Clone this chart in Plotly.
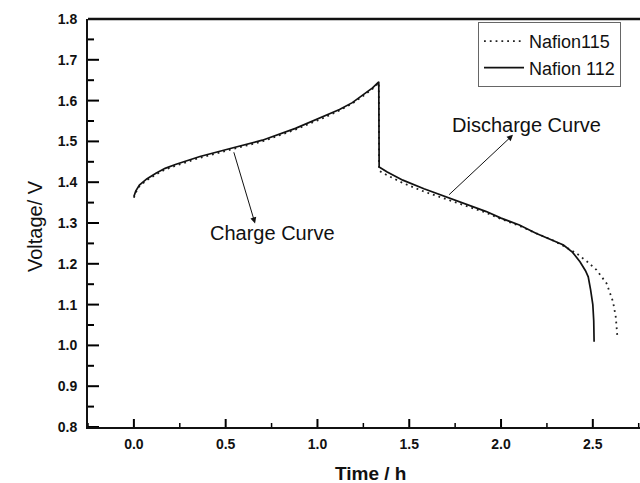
import plotly.graph_objects as go

# Nafion 112 (solid)
t112 = [0.0, 0.01, 0.03, 0.07, 0.12, 0.17, 0.23, 0.30, 0.36, 0.52, 0.70, 0.88, 1.03, 1.12, 1.19, 1.25, 1.30, 1.334,
        1.336, 1.38, 1.465, 1.58, 1.70, 1.80, 1.92, 2.00, 2.10, 2.19, 2.28, 2.34, 2.39, 2.43,
        2.46, 2.475, 2.488, 2.50, 2.505, 2.507]
v112 = [1.365, 1.378, 1.393, 1.408, 1.422, 1.434, 1.444, 1.455, 1.463, 1.482, 1.503, 1.532, 1.560, 1.578, 1.595, 1.614, 1.631, 1.646,
        1.437, 1.425, 1.405, 1.384, 1.364, 1.347, 1.328, 1.312, 1.295, 1.275, 1.258, 1.246, 1.228, 1.205,
        1.183, 1.168, 1.136, 1.100, 1.060, 1.009]

# Nafion115 (dotted)
t115 = [0.0, 0.01, 0.03, 0.07, 0.12, 0.17, 0.23, 0.30, 0.36, 0.52, 0.70, 0.88, 1.03, 1.12, 1.19, 1.25, 1.30, 1.334,
        1.336, 1.38, 1.465, 1.58, 1.70, 1.80, 1.92, 2.00, 2.10, 2.19, 2.28, 2.34, 2.41, 2.47,
        2.52, 2.575, 2.61, 2.625, 2.633]
v115 = [1.362, 1.375, 1.390, 1.405, 1.419, 1.431, 1.441, 1.452, 1.460, 1.479, 1.500, 1.529, 1.557, 1.576, 1.593, 1.612, 1.629, 1.644,
        1.428, 1.417, 1.398, 1.377, 1.359, 1.344, 1.325, 1.310, 1.293, 1.275, 1.258, 1.244, 1.226, 1.205,
        1.185, 1.152, 1.107, 1.070, 1.025]

xtickvals = [0.0, 0.5, 1.0, 1.5, 2.0, 2.5]
xticklabels = ["0.0", "0.5", "1.0", "1.5", "2.0", "2.5"]
xminorvals = [-0.25, 0.25, 0.75, 1.25, 1.75, 2.25, 2.75]
ytickvals = [0.8, 0.9, 1.0, 1.1, 1.2, 1.3, 1.4, 1.5, 1.6, 1.7, 1.8]
yticklabels = ["0.8", "0.9", "1.0", "1.1", "1.2", "1.3", "1.4", "1.5", "1.6", "1.7", "1.8"]
yminorvals = [0.85, 0.95, 1.05, 1.15, 1.25, 1.35, 1.45, 1.55, 1.65, 1.75]

fig = go.Figure()
fig.add_trace(go.Scatter(x=t115, y=v115, mode="lines", name="Nafion115",
                         line=dict(color="#222222", width=1.8, dash="1.8px,4px")))
fig.add_trace(go.Scatter(x=t112, y=v112, mode="lines", name="Nafion 112",
                         line=dict(color="#111111", width=1.7)))

axis_font = dict(family="Liberation Sans, Arial", size=14, color="#111111")

fig.update_xaxes(range=[-0.25, 2.757], tickmode="array", tickvals=xtickvals,
                 ticktext=["<b>%s</b>" % s for s in xticklabels],
                 ticks="", showline=True, linewidth=2, linecolor="#111111", mirror=False,
                 showgrid=False, zeroline=False, tickfont=axis_font, ticklabelstandoff=3)
fig.update_yaxes(range=[0.8, 1.8], tickmode="array", tickvals=ytickvals,
                 ticktext=["<b>%s</b>" % s for s in yticklabels],
                 ticks="", showline=True, linewidth=2, linecolor="#111111", mirror=False,
                 showgrid=False, zeroline=False, tickfont=axis_font, ticklabelstandoff=6)

# inside tick marks, placed from the tick arrays on the axis scales
for xv in xtickvals:
    fig.add_shape(type="line", xref="x", yref="paper", ysizemode="pixel", yanchor=0,
                  x0=xv, x1=xv, y0=0, y1=8, line=dict(color="black", width=2))
for xv in xminorvals:
    fig.add_shape(type="line", xref="x", yref="paper", ysizemode="pixel", yanchor=0,
                  x0=xv, x1=xv, y0=0, y1=4, line=dict(color="black", width=1.5))
for yv in ytickvals:
    fig.add_shape(type="line", xref="paper", yref="y", xsizemode="pixel", xanchor=0,
                  x0=0, x1=11, y0=yv, y1=yv, line=dict(color="black", width=2))
for yv in yminorvals:
    fig.add_shape(type="line", xref="paper", yref="y", xsizemode="pixel", xanchor=0,
                  x0=0, x1=6, y0=yv, y1=yv, line=dict(color="black", width=2))

fig.add_shape(type="line", xref="paper", yref="paper", x0=0, x1=1, y0=1, y1=1,
              line=dict(color="#111111", width=2.5))

txt_font = dict(family="Liberation Sans, Arial", size=20, color="#111111")
fig.add_annotation(x=0.754, y=1.275, xref="x", yref="y", text="Charge Curve",
                   showarrow=False, font=txt_font)
fig.add_annotation(x=2.14, y=1.540, xref="x", yref="y", text="Discharge Curve",
                   showarrow=False, font=txt_font)
fig.add_annotation(x=0.660, y=1.299, ax=0.542, ay=1.477, xref="x", yref="y",
                   axref="x", ayref="y", text="", showarrow=True, arrowhead=2,
                   arrowsize=1.2, arrowwidth=1, arrowcolor="#111111", standoff=0)
fig.add_annotation(x=2.065, y=1.516, ax=1.709, ay=1.366, xref="x", yref="y",
                   axref="x", ayref="y", text="", showarrow=True, arrowhead=2,
                   arrowsize=1.2, arrowwidth=1, arrowcolor="#111111", standoff=0)

fig.add_annotation(x=(370 - 88) / 552, y=(427 - 473) / 408, xref="paper", yref="paper",
                   text="<b>Time / h</b>", showarrow=False, yanchor="middle",
                   font=dict(family="Liberation Sans, Arial", size=19, color="#111111"))
fig.add_annotation(x=(22 - 88) / 552, y=(427 - 226) / 408, xref="paper", yref="paper",
                   text="Voltage/ V", showarrow=False, textangle=-90,
                   font=dict(family="Liberation Sans, Arial", size=20, color="#111111"))

fig.update_layout(width=640, height=483, margin=dict(l=88, r=0, t=19, b=56),
                  plot_bgcolor="white", paper_bgcolor="white",
                  legend=dict(x=(621 - 88) / 552, y=(427 - 22) / 408, xanchor="right", yanchor="top",
                              bordercolor="#666666", borderwidth=1, bgcolor="white",
                              font=dict(family="Liberation Sans, Arial", size=18, color="#111111"),
                              tracegroupgap=0, itemwidth=40))

fig.write_html("out.html")
